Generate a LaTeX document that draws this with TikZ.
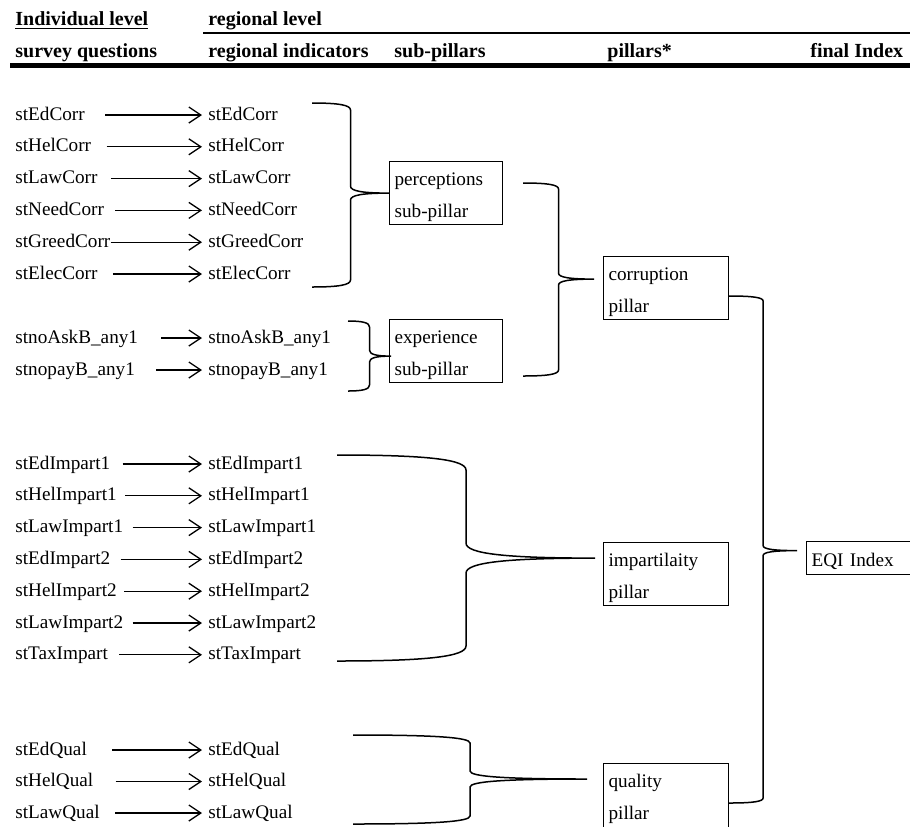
\documentclass[tikz,border=0pt]{standalone}
\usepackage{fontspec}
\setmainfont{Liberation Serif}
\usetikzlibrary{arrows.meta,calc}

\tikzset{
  item/.style={anchor=west, inner xsep=3pt, text height=7pt, text depth=2pt},
  head/.style={anchor=base west, inner sep=0pt, font=\bfseries},
  feed/.style={line width=.65pt, -{Straight Barb[length=6pt,width=8pt]}},
  pbox/.style={draw, line width=.6pt, anchor=north west, align=left, inner xsep=2.5pt, inner ysep=0pt, text height=12pt, text depth=19.5pt},
  bracket/.style={line width=.75pt},
}

% right-hand brace: top end, bottom end, tip, bend
\newcommand{\joinbrace}[4]{%
  \path ($(#1)!.5!(#3)$) coordinate (brmid);
  \draw[bracket] (#1) .. controls ($(#1)!.7!(brmid |- #1)$) and ($(brmid |- #1)+(0,{.3*#4})$) .. ($(brmid |- #1)+(0,#4)$)
    -- ($(brmid |- #3)-(0,#4)$) .. controls ($(brmid |- #3)-(0,{.3*#4})$) and ($(brmid |- #3)!.3!(#3)$) .. (#3)
    .. controls ($(brmid |- #3)!.3!(#3)$) and ($(brmid |- #3)+(0,{.3*#4})$) .. ($(brmid |- #3)+(0,#4)$)
    -- ($(brmid |- #2)-(0,#4)$) .. controls ($(brmid |- #2)-(0,{.3*#4})$) and ($(#2)!.7!(brmid |- #2)$) .. (#2);
}

\begin{document}
\begin{tikzpicture}[x=0.5pt, y=-0.5pt, font=\fontsize{9.6pt}{16pt}\selectfont]
    \useasboundingbox (0,0) rectangle (910,826);

    % headers
    \node[head] (indiv) at (15,25) {\underline{Individual level}};
    \node[head] (region) at (208,25) {regional level};
    \node[head] (hq) at (15,57) {survey questions};
    \node[head] (hr) at (208,57) {regional indicators};
    \node[head] (hs) at (394,57) {sub-pillars};
    \node[head] (hp) at (607,57) {pillars*};
    \node[head] (hf) at (810,57) {final Index};
    \draw[line width=.6pt] (203,33) -- (910,33);
    \draw[line width=2.5pt] (10,65) -- (910,65);

    % survey questions -> regional indicators
    \foreach \lbl/\gap [count=\k] in {stEdCorr/7,stHelCorr/4.5,stLawCorr/3.5,stNeedCorr/2.5,stGreedCorr/-3,stElecCorr/4.5} {
        \node[item] (sq-c\k) at (9,{115+31.8*(\k-1)}) {\lbl};
        \node[item] (ri-c\k) at (202,{115+31.8*(\k-1)}) {\lbl};
        \draw[feed, shorten <=\gap pt] (sq-c\k) -- (ri-c\k);
    }
    \foreach \lbl/\gap [count=\k] in {stnoAskB\_any1/8.5,stnopayB\_any1/7.5} {
        \node[item] (sq-e\k) at (9,{338+32*(\k-1)}) {\lbl};
        \node[item] (ri-e\k) at (202,{338+32*(\k-1)}) {\lbl};
        \draw[feed, shorten <=\gap pt] (sq-e\k) -- (ri-e\k);
    }
    \foreach \lbl/\gap [count=\k] in {stEdImpart1/3,stHelImpart1/1,stLawImpart1/1.5,stEdImpart2/2,stHelImpart2/0.5,stLawImpart2/1.5,stTaxImpart/2.5} {
        \node[item] (sq-i\k) at (9,{464+31.8*(\k-1)}) {\lbl};
        \node[item] (ri-i\k) at (202,{464+31.8*(\k-1)}) {\lbl};
        \draw[feed, shorten <=\gap pt] (sq-i\k) -- (ri-i\k);
    }
    \foreach \lbl/\gap [count=\k] in {stEdQual/9.5,stHelQual/8,stLawQual/4.5} {
        \node[item] (sq-q\k) at (9,{750+31.5*(\k-1)}) {\lbl};
        \node[item] (ri-q\k) at (202,{750+31.5*(\k-1)}) {\lbl};
        \draw[feed, shorten <=\gap pt] (sq-q\k) -- (ri-q\k);
    }

    % sub-pillars, pillars, index
    \node[pbox, text width=51.5pt] (perc) at (389,161) {perceptions\\sub-pillar};
    \node[pbox, text width=51.5pt] (exper) at (389,319) {experience\\sub-pillar};
    \node[pbox, text width=57.5pt] (corr) at (603,256) {corruption\\pillar};
    \node[pbox, text width=57.5pt] (impart) at (603,542) {impartilaity\\pillar};
    \node[pbox, text width=57.5pt, text depth=21pt] (qual) at (603,763) {quality\\pillar};
    \node[pbox, text width=50pt, text height=12.5pt, text depth=4pt] (eqi) at (806,541) {EQI Index};

    % braces
    \coordinate (b1t) at (312,103);
    \coordinate (b1b) at (312,287);
    \coordinate (b1x) at (perc.west);
    \joinbrace{b1t}{b1b}{b1x}{7}
    \coordinate (b2t) at (348,321);
    \coordinate (b2b) at (348,391);
    \coordinate (b2x) at ($(exper.west)+(2,5)$);
    \joinbrace{b2t}{b2b}{b2x}{6}
    \coordinate (b3t) at (523,183);
    \coordinate (b3b) at (523,376);
    \coordinate (b3x) at ($(corr.west)+(-9,-9)$);
    \joinbrace{b3t}{b3b}{b3x}{6}
    \coordinate (b4t) at (337,455);
    \coordinate (b4b) at (337,661);
    \coordinate (b4x) at ($(impart.west)+(-8,-16)$);
    \joinbrace{b4t}{b4b}{b4x}{15}
    \coordinate (b5t) at (353,735);
    \coordinate (b5b) at (353,824);
    \coordinate (b5x) at ($(qual.north west)+(-16,16)$);
    \joinbrace{b5t}{b5b}{b5x}{8}
    \coordinate (b6t) at ($(corr.north east)+(0,40)$);
    \coordinate (b6b) at ($(qual.north east)+(0,40)$);
    \coordinate (b6x) at ($(eqi.west)+(-9,-7.5)$);
    \joinbrace{b6t}{b6b}{b6x}{5}
\end{tikzpicture}
\end{document}
